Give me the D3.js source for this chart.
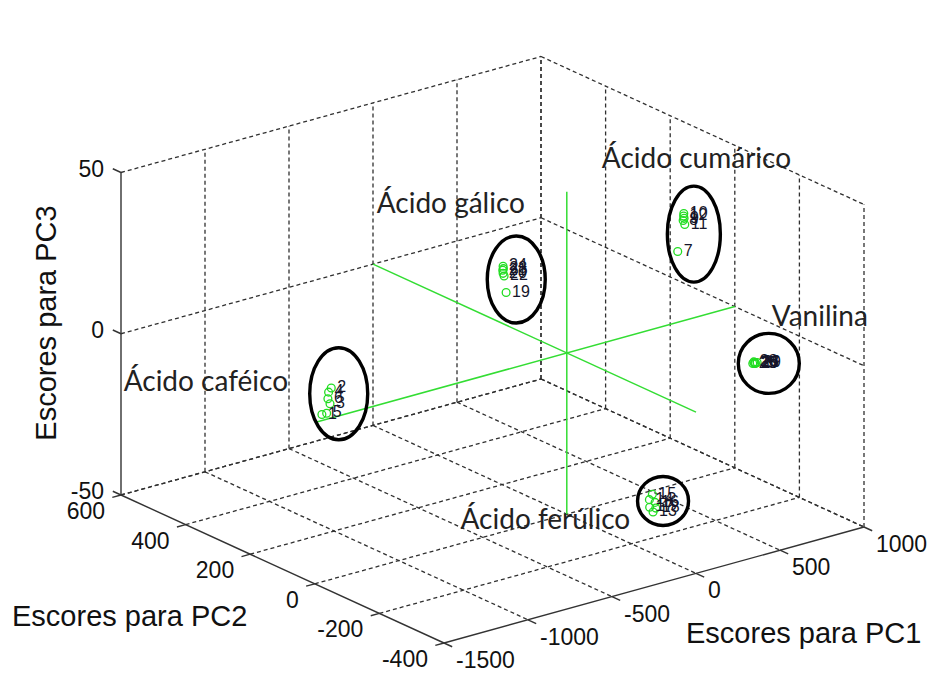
<!DOCTYPE html>
<html>
<head>
<meta charset="utf-8">
<script src="https://cdn.jsdelivr.net/npm/d3@7"></script>
<style>
  html, body { margin: 0; padding: 0; background: #fff; }
  svg { display: block; }
</style>
</head>
<body>
<svg id="chart" width="938" height="677"></svg>
<script>
// ---- data: PCA scores of the phenolic standards ----
const compounds = ["Ácido caféico", "Ácido cumárico", "Ácido ferúlico", "Ácido gálico", "Vanilina"];
const sampleIds = [1, 2, 3, 4, 5, 6, 7, 8, 9, 10, 11, 12, 13, 14, 15,
                   16, 17, 18, 19, 20, 21, 22, 23, 24, 25, 26, 27, 28, 29, 30];
const sampleGroup = [0, 0, 0, 0, 0, 0, 1, 1, 1, 1, 1, 1, 2, 2, 2,
                     2, 2, 2, 3, 3, 3, 3, 3, 3, 4, 4, 4, 4, 4, 4];
const pc1Scores = [-781, -733, -727, -745, -745, -751,
                   570, 606, 604, 608, 606, 605,
                   150, 132, 144, 162, 126, 168,
                   -219, -237, -237, -231, -237, -237,
                   736, 748, 754, 742, 760, 748];
const pc2Scores = [352, 348, 355, 350, 356, 349,
                   -47, -45, -49, -46, -50, -47,
                   -189, -187, -190, -189, -191, -188,
                   74, 74, 75, 74, 73, 74,
                   -193, -194, -192, -193, -194, -192];
const pc3Scores = [-24.0, -16.3, -21.6, -17.5, -24.3, -19.4,
                   25.4, 34.4, 35.3, 36.6, 33.4, 35.9,
                   -42.8, -38.8, -37.2, -40.0, -40.9, -41.9,
                   18.5, 24.7, 25.6, 23.8, 26.2, 26.9,
                   -5.0, -4.8, -5.3, -4.6, -5.0, -5.2];

const pc1Ticks = [-1500, -1000, -500, 0, 500, 1000];
const pc2Ticks = [-400, -200, 0, 200, 400, 600];
const pc3Ticks = [-50, 0, 50];
const pc1Domain = [-1500, 1000];
const pc2Domain = [600, -400];
const pc3Domain = [-50, 50];

// ---- layout of the annotations (ellipse and caption per group, relative to group centre) ----
const groupLayout = [
  { rx: 29, ry: 46, dx: 11, dy: -8,  tx: -204, ty: -11 },     // caféico
  { rx: 26.5, ry: 48, dx: 11, dy: 10, tx: -81, ty: -56 },     // cumárico
  { rx: 25.5, ry: 24.5, dx: 10.5, dy: -3, tx: -192, ty: 25 }, // ferúlico
  { rx: 29, ry: 43.5, dx: 12.5, dy: 5, tx: -127, ty: -61 },   // gálico
  { rx: 30.5, ry: 30, dx: 14, dy: 0.5, tx: 17, ty: -37 }      // vanilina
];

// ---- oblique 3-D projection built from three linear scales ----
const ORIGIN = [121, 495];           // screen point of (pc1 min, pc2 max, pc3 min)
const E1 = [420, -116];              // screen vector across the PC1 range
const E2 = [323, 148];               // screen vector across the PC2 range
const E3 = [0, -322.5];              // screen vector across the PC3 range
const s1 = d3.scaleLinear().domain(pc1Domain).range([0, 1]);
const s2 = d3.scaleLinear().domain(pc2Domain).range([0, 1]);
const s3 = d3.scaleLinear().domain(pc3Domain).range([0, 1]);
function proj(x, y, z) {
  const a = s1(x), b = s2(y), c = s3(z);
  return [ORIGIN[0] + a * E1[0] + b * E2[0] + c * E3[0],
          ORIGIN[1] + a * E1[1] + b * E2[1] + c * E3[1]];
}
function unit(v) { const l = Math.hypot(v[0], v[1]); return [v[0] / l, v[1] / l]; }

const svg = d3.select("#chart");
const line = d3.line();
const gridColor = "#303030";
const axisColor = "#333";
const tickFont = "'Liberation Sans', Arial, sans-serif";

const [x0, x1] = pc1Domain, [y0, y1] = pc2Domain, [z0, z1] = pc3Domain;

// ---- dashed grid on floor and the two back walls ----
const grid = svg.append("g").attr("fill", "none").attr("stroke", gridColor)
  .attr("stroke-width", 1.3).attr("stroke-dasharray", "4,3");
const gridSegs = [];
pc1Ticks.filter(t => t !== x0).forEach(t => {
  gridSegs.push([proj(t, y0, z0), proj(t, y1, z0)]);   // floor
  gridSegs.push([proj(t, y0, z0), proj(t, y0, z1)]);   // back-left wall
});
pc2Ticks.filter(t => t !== y1).forEach(t => {
  gridSegs.push([proj(x0, t, z0), proj(x1, t, z0)]);   // floor
});
pc2Ticks.forEach(t => {
  gridSegs.push([proj(x1, t, z0), proj(x1, t, z1)]);   // back-right wall
});
pc3Ticks.forEach(t => {
  gridSegs.push([proj(x0, y0, t), proj(x1, y0, t)]);
  gridSegs.push([proj(x1, y0, t), proj(x1, y1, t)]);
});
grid.selectAll("path").data(gridSegs).join("path").attr("d", d => line(d));

// ---- solid axes ----
const axes = svg.append("g").attr("fill", "none").attr("stroke", axisColor).attr("stroke-width", 1.4);
axes.append("path").attr("d", line([proj(x0, y0, z0), proj(x0, y0, z1)]));   // PC3
axes.append("path").attr("d", line([proj(x0, y0, z0), proj(x0, y1, z0)]));   // PC2
axes.append("path").attr("d", line([proj(x0, y1, z0), proj(x1, y1, z0)]));   // PC1

const TL = 9;
const dirOutPC2 = unit([-E2[0], -E2[1]]);  // z ticks point away along +PC2
const dirOutPC1 = unit([-E1[0], -E1[1]]);  // PC2 ticks point away along -PC1
const dirOutPC1b = unit(E2);               // PC1 ticks point away along -PC2

const labels = svg.append("g").attr("font-family", tickFont).attr("font-size", 23).attr("fill", "#111");

pc3Ticks.forEach(t => {
  const p = proj(x0, y0, t);
  axes.append("path").attr("d", line([p, [p[0] + dirOutPC2[0] * TL, p[1] + dirOutPC2[1] * TL]]));
  labels.append("text").attr("x", p[0] - 17).attr("y", p[1] - 2)
    .attr("text-anchor", "end").attr("dominant-baseline", "middle").text(t);
});
pc2Ticks.forEach(t => {
  const p = proj(x0, t, z0);
  axes.append("path").attr("d", line([p, [p[0] + dirOutPC1[0] * TL, p[1] + dirOutPC1[1] * TL]]));
  labels.append("text").attr("x", p[0] - 16).attr("y", p[1] + 18)
    .attr("text-anchor", "end").attr("dominant-baseline", "middle").text(t);
});
pc1Ticks.forEach(t => {
  const p = proj(t, y1, z0);
  axes.append("path").attr("d", line([p, [p[0] + dirOutPC1b[0] * TL, p[1] + dirOutPC1b[1] * TL]]));
  labels.append("text").attr("x", p[0] + 12).attr("y", p[1] + 19)
    .attr("text-anchor", "start").attr("dominant-baseline", "middle").text(t);
});

// ---- axis titles ----
const titles = svg.append("g").attr("font-family", tickFont).attr("font-size", 29).attr("fill", "#111");
titles.append("text").attr("transform", "translate(56,323) rotate(-90)")
  .attr("text-anchor", "middle").text("Escores para PC3");
titles.append("text").attr("x", 12).attr("y", 626).text("Escores para PC2");
titles.append("text").attr("x", 686).attr("y", 643).text("Escores para PC1");

// ---- green reference axes through the origin ----
const green = svg.append("g").attr("fill", "none").attr("stroke", "#33dd33").attr("stroke-width", 1.5);
green.append("path").attr("d", line([proj(x0, 0, 0), proj(x1, 0, 0)]));
green.append("path").attr("d", line([proj(0, y0, 0), proj(0, y1, 0)]));
green.append("path").attr("d", line([proj(0, 0, z0), proj(0, 0, z1)]));

// ---- samples ----
const samples = sampleIds.map((id, i) => {
  const p = proj(pc1Scores[i], pc2Scores[i], pc3Scores[i]);
  return { id, g: sampleGroup[i], sx: p[0], sy: p[1] };
});
svg.append("g").selectAll("circle").data(samples).join("circle")
  .attr("cx", d => d.sx).attr("cy", d => d.sy).attr("r", 3.9)
  .attr("fill", "none").attr("stroke", "#22dd22").attr("stroke-width", 1.3);
svg.append("g").attr("font-family", tickFont).attr("font-size", 16).attr("fill", "#15152a")
  .selectAll("text").data(samples).join("text")
  .attr("x", d => d.sx + 6).attr("y", d => d.sy)
  .attr("dominant-baseline", "middle").text(d => d.id);

// ---- group ellipses and captions ----
const centres = compounds.map((name, g) => {
  const pts = samples.filter(s => s.g === g);
  return { name, g, cx: d3.mean(pts, s => s.sx), cy: d3.mean(pts, s => s.sy) };
});
svg.append("g").selectAll("ellipse").data(centres).join("ellipse")
  .attr("cx", d => d.cx + groupLayout[d.g].dx).attr("cy", d => d.cy + groupLayout[d.g].dy)
  .attr("rx", d => groupLayout[d.g].rx).attr("ry", d => groupLayout[d.g].ry)
  .attr("fill", "none").attr("stroke", "#000").attr("stroke-width", 3.4);
svg.append("g").attr("font-family", "Lato, 'Open Sans', sans-serif").attr("font-size", 28).attr("fill", "#222")
  .selectAll("text").data(centres).join("text")
  .attr("x", d => d.cx + groupLayout[d.g].tx).attr("y", d => d.cy + groupLayout[d.g].ty)
  .text(d => d.name);
</script>
</body>
</html>
